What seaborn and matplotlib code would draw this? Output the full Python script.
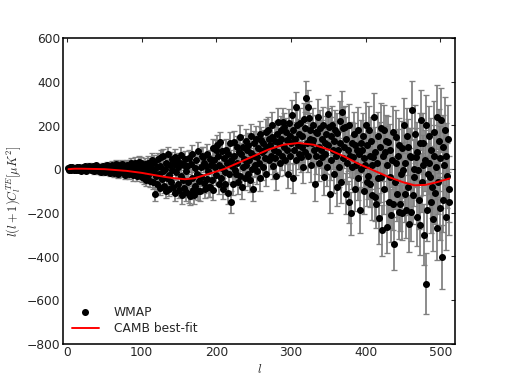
import numpy as np
import pandas as pd
import matplotlib
matplotlib.use("Agg")
import matplotlib.pyplot as plt
import seaborn as sns

# multipoles of the WMAP TE points
ell = np.arange(2, 513)

# l(l+1)C_l^TE, 10 multipoles per row (l = 2..512)
te = [
    5, -3, 8, 2, -6, 10, 1, -4, 7, 3,
    -2, 9, 4, -5, 12, 0, 6, -8, 3, 11,
    7, -4, 14, 2, -9, 5, 10, -1, 16, 4,
    -6, 9, 3, 13, -10, 6, 1, 18, -3, 8,
    12, -8, 4, -14, 10, 2, 15, -5, 7, -11,
    6, 18, -9, 3, 14, -16, 8, -2, 20, -7,
    11, -18, 4, 22, -6, 13, -21, 9, 1, 17,
    -14, 7, 24, -10, 3, -25, 15, -4, 19, -17,
    8, -22, 20, -3, 26, -15, 5, -28, 12, 30,
    -9, 18, -30, 6, 34, -20, 2, 28, -12, -35,
    14, -40, 5, 25, -48, -8, 30, -26, 10, -55,
    20, -15, 42, -60, -5, 35, -115, -30, 8, -70,
    45, -20, -85, 15, 55, -45, -10, 60, -75, 0,
    -100, 30, -40, 70, -25, -90, 20, -60, 45, -5,
    -80, 25, 55, -110, -15, 40, -70, 10, -95, 30,
    -30, 65, -120, -50, 20, -85, 45, -10, -105, 15,
    -60, 50, -115, -125, 25, -40, 70, -95, -118, 5,
    -75, 40, -20, 85, -100, -55, -102, 10, -35, 60,
    57, -65, 30, -90, 15, 70, -45, -10, -81, 45,
    -81, 20, -50, 95, -96, 40, 11, -25, 87, 110,
    60, -70, 20, 125, -40, 85, 5, -90, 50, -15,
    -66, 90, 30, -110, 70, -20, 120, 40, -150, 15,
    -66, 60, 125, -5, -20, 100, 30, -60, 80, 148,
    -30, 70, -81, 10, 103, 45, -40, 130, 20, 90,
    -20, 110, 41, -50, 75, 150, 0, -89, 60, 120,
    20, 140, -10, 57, 95, 30, 160, -40, 133, 80,
    10, 120, 87, 50, 170, -20, 100, 179, 40, 140,
    110, 60, 148, 200, 15, 90, 130, 50, -31, 160,
    217, 80, 120, 30, 180, 140, 60, 217, 100, 194,
    40, 170, 133, 90, -20, 210, 150, 60, 120, 250,
    -40, 180, 90, 140, 283, 40, 200, 110, 160, 70,
    210, 57, 103, 150, 11, 230, 80, 190, 327, 120,
    286, 60, 233, 140, 179, 20, 118, 200, 133, 90,
    -66, 170, 60, 164, 240, 100, 30, 190, 87, 140,
    57, 200, -35, 120, 70, 160, 10, 252, 110, 194,
    -112, 150, 40, 200, 90, -20, 130, 180, 60, -80,
    164, 87, 10, 220, 120, -60, 263, 50, 187, 100,
    194, -112, 140, 30, 90, -150, 200, 60, -203, 118,
    10, 57, 160, -90, 110, 20, 87, -40, 180, 70,
    -188, 120, 0, 87, 150, -100, 50, 18, 200, -60,
    110, -30, 180, -66, 60, 130, -120, 20, 57, 240,
    -127, 80, -158, 26, 150, -40, -226, 100, -35, 190,
    -280, 60, 179, -90, 80, 130, -265, 20, 125, -150,
    -35, 90, -211, 40, -158, 170, -341, -60, 26, 148,
    -112, 60, -196, 110, -158, -20, 95, -200, -5, 200,
    -112, 30, -188, 150, -80, 103, -250, 60, -196, 57,
    271, -120, 0, -35, 160, 57, -219, 80, -5, -140,
    -257, 120, 225, -60, 118, 18, -300, 40, -525, 200,
    -188, -20, 26, 150, -35, -150, 90, -81, -230, 60,
    170, -110, 10, -270, 240, -60, 130, -180, 50, 225,
    -402, 100, -140, 20, 180, -220, 60, -30, 140, -90,
    -150,
]

# 1-sigma error bars, same ordering
te_err = [
    3, 4, 3, 4, 5, 4, 5, 4, 5, 6,
    5, 6, 5, 7, 6, 6, 7, 6, 8, 7,
    7, 8, 7, 8, 9, 8, 9, 8, 10, 9,
    9, 10, 10, 11, 10, 11, 12, 11, 12, 12,
    12, 13, 12, 14, 13, 14, 14, 15, 14, 15,
    15, 16, 15, 17, 16, 17, 16, 18, 17, 18,
    18, 17, 19, 18, 19, 20, 19, 20, 19, 21,
    20, 21, 20, 22, 21, 22, 21, 23, 22, 23,
    22, 23, 24, 23, 24, 23, 25, 24, 25, 24,
    25, 24, 26, 25, 26, 25, 27, 26, 27, 26,
    27, 26, 28, 27, 28, 27, 29, 28, 29, 28,
    29, 28, 30, 29, 30, 29, 31, 30, 31, 30,
    31, 30, 32, 31, 32, 31, 33, 32, 33, 32,
    33, 32, 34, 33, 34, 33, 35, 34, 35, 34,
    35, 34, 36, 35, 36, 35, 37, 36, 37, 36,
    37, 36, 38, 37, 38, 37, 39, 38, 39, 38,
    39, 38, 40, 39, 40, 39, 41, 40, 41, 40,
    41, 40, 42, 41, 42, 41, 43, 42, 43, 42,
    43, 42, 44, 43, 44, 43, 45, 44, 45, 44,
    45, 44, 46, 45, 46, 45, 47, 46, 47, 46,
    47, 46, 48, 47, 48, 47, 49, 48, 49, 48,
    49, 48, 50, 49, 50, 49, 51, 50, 51, 50,
    51, 50, 52, 51, 52, 51, 53, 52, 53, 52,
    53, 52, 54, 53, 54, 53, 55, 54, 55, 54,
    55, 54, 56, 55, 56, 55, 57, 56, 57, 56,
    57, 56, 58, 57, 58, 57, 59, 58, 59, 58,
    59, 58, 60, 59, 60, 59, 61, 60, 61, 60,
    61, 60, 62, 61, 62, 61, 63, 62, 63, 62,
    63, 62, 64, 63, 64, 63, 65, 64, 65, 64,
    65, 64, 66, 65, 66, 65, 67, 66, 67, 66,
    67, 66, 68, 67, 69, 68, 70, 69, 70, 69,
    71, 70, 72, 71, 73, 72, 74, 73, 75, 74,
    76, 75, 77, 76, 78, 77, 79, 78, 80, 79,
    80, 79, 81, 80, 82, 81, 83, 82, 84, 83,
    84, 83, 85, 84, 86, 85, 87, 86, 88, 87,
    88, 87, 89, 88, 90, 89, 91, 90, 92, 91,
    92, 91, 93, 92, 94, 93, 95, 94, 96, 95,
    96, 95, 97, 96, 98, 97, 99, 98, 100, 99,
    100, 99, 101, 100, 102, 101, 103, 102, 104, 103,
    104, 103, 105, 104, 106, 105, 107, 106, 108, 107,
    108, 107, 109, 108, 110, 109, 111, 110, 112, 111,
    112, 111, 113, 112, 114, 113, 115, 114, 116, 115,
    116, 115, 117, 116, 118, 117, 119, 118, 120, 119,
    120, 119, 121, 120, 122, 121, 123, 122, 124, 123,
    124, 123, 125, 124, 126, 125, 127, 126, 128, 127,
    128, 127, 129, 128, 130, 129, 131, 130, 132, 131,
    132, 131, 133, 132, 134, 133, 135, 134, 136, 135,
    136, 135, 137, 136, 138, 137, 139, 138, 140, 139,
    140, 139, 141, 140, 142, 141, 143, 142, 144, 143,
    144, 143, 145, 144, 146, 145, 147, 146, 148, 147,
    148, 147, 149, 148, 150, 149, 151, 150, 152, 151,
    152,
]

# CAMB best-fit curve, read at a set of multipoles
camb_ell = [2, 10, 20, 35, 50, 65, 80, 100, 115, 130, 145, 158, 170, 180,
            195, 210, 230, 250, 270, 290, 310, 330, 350, 370, 390, 410,
            430, 450, 465, 480, 495, 512]
camb_te = [0, 2, 2, 1, 0, -4, -8, -17, -26, -35, -42, -46, -42, -32,
           -16, 0, 30, 60, 90, 112, 120, 112, 90, 60, 25, -5,
           -35, -60, -74, -72, -60, -43]

df = pd.DataFrame({"ell": ell, "te": te, "err": te_err})
camb = pd.DataFrame({"ell": camb_ell, "te": camb_te})

sns.set_style("white")
plt.rcParams["mathtext.fontset"] = "cm"
plt.rcParams["font.family"] = ["DejaVu Sans"]

fig, ax = plt.subplots(figsize=(8, 6.04), dpi=63.25)
fig.subplots_adjust(left=0.125, right=0.9, bottom=0.1, top=0.9)

ax.errorbar(df["ell"], df["te"], yerr=df["err"], fmt="none", ecolor="gray",
            elinewidth=2, capsize=3.5, capthick=1.5, zorder=1)
sns.scatterplot(data=df, x="ell", y="te", color="black", s=64, linewidth=0,
                label="WMAP", ax=ax, zorder=2)
sns.lineplot(data=camb, x="ell", y="te", color="red", linewidth=2.2,
             label="CAMB best-fit", ax=ax, zorder=3)

ax.set_xlim(-5, 520)
ax.set_ylim(-800, 600)
ax.set_xticks([0, 100, 200, 300, 400, 500])
ax.set_yticks(range(-800, 601, 200))
ax.tick_params(direction="in", length=5, width=1.2, top=True, right=True,
               labelsize=14, pad=3)
for sp in ax.spines.values():
    sp.set_linewidth(1.8)
    sp.set_color("black")

ax.set_xlabel("$l$", fontsize=14)
ax.set_ylabel(r"$l(l+1)C_l^{TE}[\mu K^2]$", fontsize=14)

ax.legend(loc="lower left", frameon=False, fontsize=14, handlelength=2.2,
          borderaxespad=0.3, handletextpad=1.2, labelspacing=0.3)

fig.savefig("out.png", dpi=63.25)
